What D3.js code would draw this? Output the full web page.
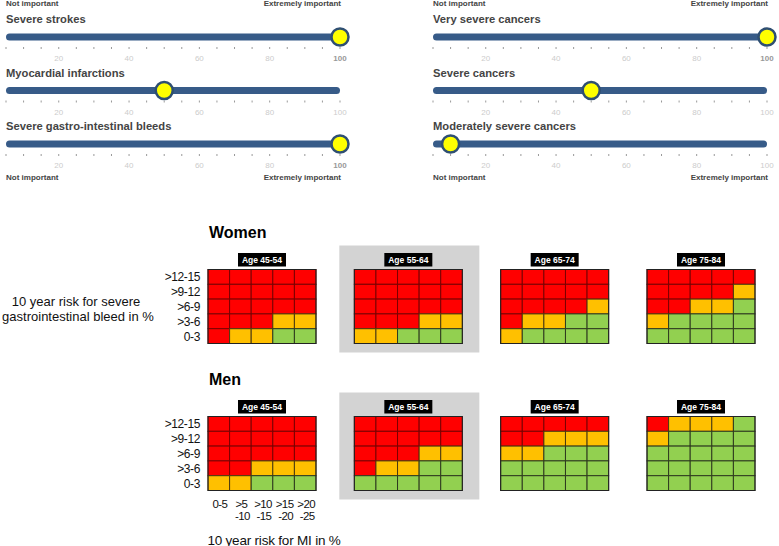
<!DOCTYPE html>
<html>
<head>
<meta charset="utf-8">
<script src="https://cdn.jsdelivr.net/npm/d3@7"></script>
<style>
  html, body { margin: 0; padding: 0; background: #fff; }
  svg { display: block; font-family: "Liberation Sans", Arial, sans-serif; }
</style>
</head>
<body>
<svg id="chart" width="779" height="546"></svg>
<script>
// ---- Data ----
const leftSliders = ["Severe strokes", "Myocardial infarctions", "Severe gastro-intestinal bleeds"];
const leftValues = [100, 50, 100];
const rightSliders = ["Very severe cancers", "Severe cancers", "Moderately severe cancers"];
const rightValues = [100, 50, 10];
const sliderTickLabels = [20, 40, 60, 80, 100];

const ages = ["Age 45-54", "Age 55-64", "Age 65-74", "Age 75-84"];
const highlightedAge = "Age 55-64";
const bleedRisk = [">12-15", ">9-12", ">6-9", ">3-6", "0-3"];
const miRiskTop = ["0-5", ">5", ">10", ">15", ">20"];
const miRiskBottom = ["", "-10", "-15", "-20", "-25"];
const miRisk = ["0-5", ">5-10", ">10-15", ">15-20", ">20-25"];
const groups = ["Women", "Men"];

// R = red, O = orange, G = green; rows top (>12-15) to bottom (0-3)
const women = [
  ["RRRRR", "RRRRR", "RRRRR", "RRROO", "ROOGG"],
  ["RRRRR", "RRRRR", "RRRRR", "RRROO", "OOGGG"],
  ["RRRRR", "RRRRR", "RRRRO", "ROOGG", "OGGGG"],
  ["RRRRR", "RRRRO", "RROOG", "OGGGG", "GGGGG"]
];
const men = [
  ["RRRRR", "RRRRR", "RRRRR", "RROOO", "OOGGG"],
  ["RRRRR", "RRRRR", "RRROO", "ROOGG", "GGGGG"],
  ["RRRRR", "RROOO", "OOGGG", "GGGGG", "GGGGG"],
  ["ROOOG", "OGGGG", "GGGGG", "GGGGG", "GGGGG"]
];
const groupData = [women, men];

const colorScale = d3.scaleOrdinal().domain(["R", "O", "G"]).range(["#ff0000", "#ffc000", "#92d050"]);
const strokeScale = d3.scaleOrdinal().domain(["R", "O", "G"]).range(["#7a0000", "#4a3a10", "#2e3a1e"]);

const svg = d3.select("#chart");

// ---- Sliders ----
function drawSliders(names, values, x0, x1) {
  const x = d3.scaleLinear().domain([5, 100]).range([x0, x1]);
  const g = svg.append("g");
  const rowY = d3.scalePoint().domain(names).range([37, 144]);

  g.append("text").attr("x", x0).attr("y", 6).attr("font-size", 8).attr("font-weight", "bold")
    .attr("fill", "#444").text("Not important");
  g.append("text").attr("x", x1 + 1).attr("y", 6).attr("font-size", 8).attr("font-weight", "bold")
    .attr("text-anchor", "end").attr("fill", "#444").text("Extremely important");

  names.forEach((name, i) => {
    const y = rowY(name);
    g.append("text").attr("x", x0).attr("y", y - 14).attr("font-size", 11.2).attr("font-weight", "bold")
      .attr("fill", "#444").text(name);
    g.append("line").attr("x1", x(5) + 3.5).attr("x2", x(100) - 3.5).attr("y1", y).attr("y2", y)
      .attr("stroke", "#375b88").attr("stroke-width", 7).attr("stroke-linecap", "round");
    const ticks = d3.range(5, 101, 5);
    g.selectAll(null).data(ticks).enter().append("line")
      .attr("x1", d => x(d)).attr("x2", d => x(d)).attr("y1", y + 10).attr("y2", y + 12)
      .attr("stroke", "#999").attr("stroke-width", 1);
    g.selectAll(null).data(sliderTickLabels).enter().append("text")
      .attr("x", d => x(d)).attr("y", y + 24).attr("text-anchor", "middle").attr("font-size", 8)
      .attr("fill", d => d === values[i] ? "#999" : "#ccc")
      .attr("font-weight", d => d === values[i] ? "bold" : "normal")
      .text(d => d);
    g.append("circle").attr("cx", x(values[i])).attr("cy", y).attr("r", 8.5)
      .attr("fill", "#ffff00").attr("stroke", "#2f4f72").attr("stroke-width", 2.5);
  });

  g.append("text").attr("x", x0).attr("y", 180).attr("font-size", 8).attr("font-weight", "bold")
    .attr("fill", "#444").text("Not important");
  g.append("text").attr("x", x1 + 1).attr("y", 180).attr("font-size", 8).attr("font-weight", "bold")
    .attr("text-anchor", "end").attr("fill", "#444").text("Extremely important");
}
drawSliders(leftSliders, leftValues, 6, 340);
drawSliders(rightSliders, rightValues, 433, 767);

// ---- Heatmaps ----
const panelX = d3.scaleBand().domain(ages).range([208, 755]).paddingInner(0.262);
const groupTop = d3.scaleOrdinal().domain(groups).range([269.5, 416.5]);
const gridH = 74;

groups.forEach((grp, gi) => {
  const top = groupTop(grp);
  const y = d3.scaleBand().domain(bleedRisk).range([top, top + gridH]);

  svg.append("text").attr("x", 209).attr("y", top - 31.5).attr("font-size", 16).attr("font-weight", "bold")
    .attr("fill", "#000").text(grp);

  // row labels
  svg.selectAll(null).data(bleedRisk).enter().append("text")
    .attr("x", 200).attr("y", d => y(d) + y.bandwidth() / 2 + 4.5)
    .attr("text-anchor", "end").attr("font-size", 12).attr("letter-spacing", -0.4)
    .attr("fill", "#111").text(d => d);

  ages.forEach((age, ai) => {
    const px = panelX(age);
    const x = d3.scaleBand().domain(miRisk).range([px, px + panelX.bandwidth()]);
    const g = svg.append("g");
    if (age === highlightedAge) {
      g.append("rect").attr("x", px - 15).attr("y", top - 24).attr("width", panelX.bandwidth() + 32)
        .attr("height", gridH + 33).attr("fill", "#d3d3d3");
    }
    // age label
    g.append("rect").attr("x", px + panelX.bandwidth() / 2 - 24).attr("y", top - 16.5)
      .attr("width", 48).attr("height", 13.5).attr("fill", "#000");
    g.append("text").attr("x", px + panelX.bandwidth() / 2).attr("y", top - 6.5)
      .attr("text-anchor", "middle").attr("font-size", 8.5).attr("font-weight", "bold")
      .attr("fill", "#fff").text(age);

    const cells = [];
    groupData[gi][ai].forEach((row, ri) => {
      row.split("").forEach((c, ci) => cells.push({ r: bleedRisk[ri], c: miRisk[ci], v: c }));
    });
    g.selectAll(null).data(cells).enter().append("rect")
      .attr("x", d => x(d.c)).attr("y", d => y(d.r))
      .attr("width", x.bandwidth()).attr("height", y.bandwidth())
      .attr("fill", d => colorScale(d.v)).attr("stroke", d => strokeScale(d.v)).attr("stroke-width", 1);
    g.append("rect").attr("x", px).attr("y", top).attr("width", panelX.bandwidth()).attr("height", gridH)
      .attr("fill", "none").attr("stroke", "#222").attr("stroke-width", 1);

    if (grp === "Men" && ai === 0) {
      svg.selectAll(null).data(miRisk).enter().append("text")
        .attr("x", d => x(d) + x.bandwidth() / 2 + 1).attr("y", top + gridH + 17)
        .attr("text-anchor", "middle").attr("font-size", 11.5).attr("letter-spacing", -0.6)
        .attr("fill", "#111").text((d, i) => miRiskTop[i]);
      svg.selectAll(null).data(miRisk).enter().append("text")
        .attr("x", d => x(d) + x.bandwidth() / 2 + 2).attr("y", top + gridH + 29)
        .attr("text-anchor", "middle").attr("font-size", 11.5).attr("letter-spacing", -0.6)
        .attr("fill", "#111").text((d, i) => miRiskBottom[i]);
      svg.append("text").attr("x", 274).attr("y", top + gridH + 54)
        .attr("text-anchor", "middle").attr("font-size", 13.5).attr("letter-spacing", -0.2)
        .attr("fill", "#111").text("10 year risk for MI in %");
    }
  });
});

svg.append("text").attr("x", 76).attr("y", 306).attr("text-anchor", "middle").attr("font-size", 13)
  .attr("fill", "#111").text("10 year risk for severe");
svg.append("text").attr("x", 78).attr("y", 321).attr("text-anchor", "middle").attr("font-size", 13)
  .attr("fill", "#111").text("gastrointestinal bleed in %");
</script>
</body>
</html>
